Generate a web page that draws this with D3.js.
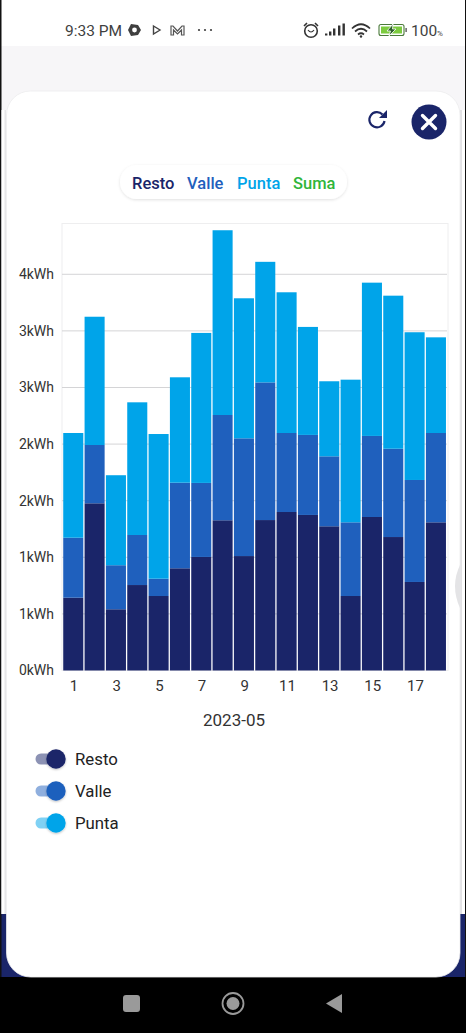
<!DOCTYPE html>
<html><head><meta charset="utf-8">
<script src="https://cdn.jsdelivr.net/npm/d3@7"></script>
<style>
html,body{margin:0;padding:0;background:#fff;overflow:hidden}
svg{display:block;font-family:Roboto,sans-serif}
</style></head><body>
<svg id="c" width="466" height="1033"></svg>
<script>
const days=[1,2,3,4,5,6,7,8,9,10,11,12,13,14,15,16,17,18];
const resto=[0.643,1.477,0.541,0.755,0.658,0.903,1.003,1.327,1.011,1.329,1.400,1.374,1.274,0.658,1.356,1.179,0.782,1.309];
const valle=[0.530,0.515,0.389,0.442,0.153,0.756,0.654,0.930,1.040,1.216,0.698,0.707,0.618,0.651,0.716,0.780,0.901,0.789];
const punta=[0.925,1.133,0.795,1.172,1.278,0.931,1.325,1.632,1.237,1.065,1.243,0.954,0.663,1.260,1.354,1.352,1.305,0.845];
const seriesNames=["Resto","Valle","Punta"];
const seriesColors=["#1a2569","#1f60bd","#00a4e9"];
const pillNames=["Resto","Valle","Punta","Suma"];
const pillColors=["#1a2569","#1f60bd","#00a4e9","#2fb53a"];
const yTicks=[0,0.5,1,1.5,2,2.5,3,3.5];
const xTicks=[1,3,5,7,9,11,13,15,17];
const xTitle="2023-05";

const svg=d3.select("#c");
const defs=svg.append("defs");
const sh=defs.append("filter").attr("id","sh").attr("x","-30%").attr("y","-50%").attr("width","160%").attr("height","200%");
sh.append("feDropShadow").attr("dx",0).attr("dy",1).attr("stdDeviation",1.6).attr("flood-color","#000").attr("flood-opacity",0.12);
const sh2=defs.append("filter").attr("id","sh2").attr("x","-50%").attr("y","-50%").attr("width","200%").attr("height","200%");
sh2.append("feDropShadow").attr("dx",0).attr("dy",1).attr("stdDeviation",1.2).attr("flood-color","#000").attr("flood-opacity",0.25);

// device frame
svg.append("rect").attr("width",466).attr("height",1033).attr("fill","#fff");
svg.append("rect").attr("y",46).attr("width",466).attr("height",868).attr("fill","#f7f6f8");
svg.append("rect").attr("y",914).attr("width",466).attr("height",64).attr("fill","#1a2569");
svg.append("rect").attr("y",977).attr("width",466).attr("height",56).attr("fill","#000");
svg.append("rect").attr("x",0).attr("width",1.5).attr("height",977).attr("fill","#111");
svg.append("rect").attr("x",465).attr("width",1).attr("height",977).attr("fill","#111");
svg.append("rect").attr("x",460).attr("y",110).attr("width",2).attr("height",804).attr("fill","#e2e2e4");
svg.append("rect").attr("x",462).attr("y",110).attr("width",3).attr("height",804).attr("fill","#fff");
svg.append("rect").attr("x",1.5).attr("y",110).attr("width",5.5).attr("height",804).attr("fill","#fff");
svg.append("rect").attr("x",4.5).attr("y",110).attr("width",1.6).attr("height",804).attr("fill","#e6e6e8");
svg.append("rect").attr("x",6.5).attr("y",91).attr("width",453.5).attr("height",886).attr("rx",24).attr("fill","#fff").attr("stroke","#ececee").attr("stroke-width",0.8);
svg.append("path").attr("d","M460 565 Q450 586 460 608 Z").attr("fill","#e4e4e6");

// status bar
const st=svg.append("g").attr("fill","#3f3f3f");
st.append("text").attr("x",65).attr("y",35.5).attr("font-size",15.5).text("9:33 PM");
st.append("path").attr("d","M131 24 L138 25 L141 30 L138 35 L131 36 L128 30Z");
st.append("circle").attr("cx",134.5).attr("cy",30).attr("r",2.4).attr("fill","#fff");
st.append("path").attr("d","M153.5 26 L160 30 L153.5 34Z").attr("fill","none").attr("stroke","#444").attr("stroke-width",1.4);
st.append("path").attr("d","M171 35 V26 H173 L177.5 31 L182 26 H184 V35 H181.5 V30 L177.5 34 L173.5 30 V35Z").attr("fill","none").attr("stroke","#555").attr("stroke-width",1.2);
[199,205,211].forEach(x=>st.append("circle").attr("cx",x).attr("cy",30).attr("r",1.1));
st.append("circle").attr("cx",311).attr("cy",31).attr("r",6.3).attr("fill","none").attr("stroke","#333").attr("stroke-width",1.6);
st.append("path").attr("d","M308 30 Q311 34 314 30").attr("fill","none").attr("stroke","#333").attr("stroke-width",1.2);
st.append("path").attr("d","M304 26 L307 23 M318 26 L315 23").attr("stroke","#333").attr("stroke-width",1.6);
[[326,2],[330,4],[334,7],[339,10],[343.5,12]].forEach(d=>st.append("rect").attr("x",d[0]-1).attr("y",35.5-d[1]).attr("width",2.4).attr("height",d[1]).attr("fill","#333"));
st.append("path").attr("d","M352 28.5 Q361 20 370 28.5 M355 31.5 Q361 26 367 31.5 M358 34.5 Q361 32 364 34.5").attr("fill","none").attr("stroke","#333").attr("stroke-width",1.7);
st.append("circle").attr("cx",361).attr("cy",36.5).attr("r",1.2).attr("fill","#333");
st.append("rect").attr("x",379).attr("y",24.5).attr("width",25).attr("height",11).attr("rx",2).attr("fill","#fff").attr("stroke","#4a7a3a").attr("stroke-width",1.1);
st.append("rect").attr("x",381).attr("y",26.5).attr("width",21).attr("height",7).attr("fill","#7ccb3f");
st.append("path").attr("d","M393 24 L387 31 H390.5 L389 36 L396 29 H392.5Z").attr("fill","#2d5f2a").attr("stroke","#fff").attr("stroke-width",0.8);
st.append("rect").attr("x",405.5).attr("y",28).attr("width",1.2).attr("height",4);
st.append("text").attr("x",411).attr("y",36).attr("font-size",15.5).text("100");
st.append("text").attr("x",437).attr("y",36).attr("font-size",8).text("%");

// card header
const navy=seriesColors[0];
svg.append("path").attr("d","M382.5 114.5 A7.6 7.6 0 1 0 384.5 121").attr("fill","none").attr("stroke",navy).attr("stroke-width",2.2);
svg.append("path").attr("d","M387 110 V118 H379Z").attr("fill",navy);
svg.append("circle").attr("cx",429).attr("cy",122).attr("r",17.5).attr("fill",navy);
svg.append("path").attr("d","M422.5 115.5 L435.5 128.5 M435.5 115.5 L422.5 128.5").attr("stroke","#fff").attr("stroke-width",3.4).attr("stroke-linecap","round");

// selector pill
svg.append("rect").attr("x",120).attr("y",165).attr("width",227).attr("height",34).attr("rx",17).attr("fill","#fff").attr("filter","url(#sh)");
const pillX=[132,187,237,293];
svg.selectAll(".pill").data(pillNames).join("text").attr("class","pill")
 .attr("x",(d,i)=>pillX[i]).attr("y",188.5).attr("font-size",16.5).attr("font-weight",500)
 .attr("fill",(d,i)=>pillColors[i]).text(d=>d);

// chart
const x=d3.scaleBand().domain(days).range([62.6,446.6]).paddingInner(0.06).paddingOuter(0.03);
const y=d3.scaleLinear().domain([0,3.953]).range([670.5,223]);
svg.append("rect").attr("x",62).attr("y",223.5).attr("width",386).attr("height",447).attr("fill","none").attr("stroke","#eeeeef").attr("stroke-width",1);
svg.append("g").selectAll("line").data(yTicks.slice(1)).join("line")
 .attr("x1",62).attr("x2",447).attr("y1",d=>y(d)).attr("y2",d=>y(d)).attr("stroke","#d4d4d6").attr("stroke-width",1);

const rows=days.map((d,i)=>({day:d,Resto:resto[i],Valle:valle[i],Punta:punta[i]}));
const stacked=d3.stack().keys(seriesNames)(rows);
svg.append("g").selectAll("g").data(stacked).join("g").attr("fill",(d,i)=>seriesColors[i])
 .selectAll("rect").data(d=>d).join("rect")
 .attr("x",d=>x(d.data.day)).attr("width",x.bandwidth())
 .attr("y",d=>y(d[1])).attr("height",d=>y(d[0])-y(d[1]));

const yAxis=d3.axisLeft(y).tickValues(yTicks).tickSize(0).tickPadding(0).tickFormat(d=>d3.format(".0f")(Math.round(d+1e-9))+"kWh");
const ya=svg.append("g").attr("transform","translate(54,0)").call(yAxis);
ya.select(".domain").remove();
ya.selectAll("text").attr("font-size",14).attr("font-family","Roboto").attr("fill","#333");
const xAxis=d3.axisBottom(x).tickValues(xTicks).tickSize(0).tickPadding(0);
const xa=svg.append("g").attr("transform","translate(0.8,680)").call(xAxis);
xa.select(".domain").remove();
xa.selectAll("text").attr("font-size",15).attr("font-family","Roboto").attr("fill","#333");
svg.append("text").attr("x",234).attr("y",726).attr("text-anchor","middle").attr("font-size",17).attr("fill","#333").text(xTitle);

// toggles
const legY=d3.scalePoint().domain(seriesNames).range([759,823]);
const lg=svg.append("g").selectAll("g").data(seriesNames).join("g").attr("transform",d=>`translate(0,${legY(d)})`);
lg.append("rect").attr("x",35.5).attr("y",-5.5).attr("width",24).attr("height",11).attr("rx",5.5).attr("fill",(d,i)=>seriesColors[i]).attr("opacity",0.5);
lg.append("circle").attr("cx",56).attr("r",9.7).attr("fill",(d,i)=>seriesColors[i]).attr("filter","url(#sh2)");
lg.append("text").attr("x",75).attr("y",6).attr("font-size",16.8).attr("fill","#222").text(d=>d);

// nav bar
svg.append("rect").attr("x",123).attr("y",995).attr("width",17).attr("height",17).attr("rx",3).attr("fill","#9a9a9a");
svg.append("circle").attr("cx",233).attr("cy",1003.5).attr("r",10.5).attr("fill","none").attr("stroke","#9a9a9a").attr("stroke-width",1.8);
svg.append("circle").attr("cx",233).attr("cy",1003.5).attr("r",6.5).attr("fill","#9a9a9a");
svg.append("path").attr("d","M342 994 V1013 L326 1003.5Z").attr("fill","#9a9a9a");
</script></body></html>
